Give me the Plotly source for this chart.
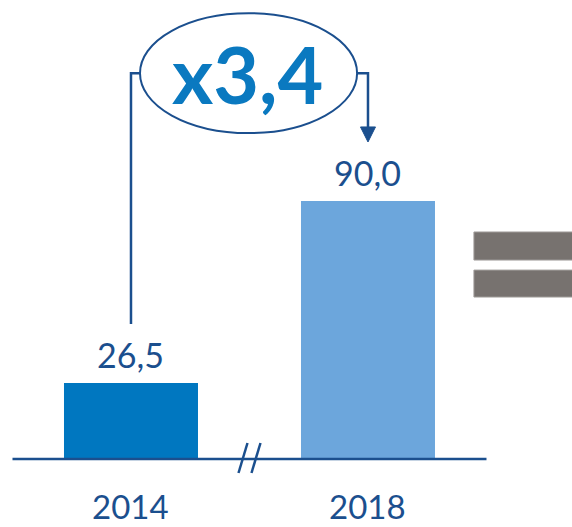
import plotly.graph_objects as go

# Data
years = ["2014", "2018"]
values = [26.5, 90.0]
bar_colors = ["#0077C0", "#6CA6DC"]

# Geometry of the canvas (axis ranges chosen so the plot fills the page)
W, H = 572, 527
X_RANGE = [-0.5527, 1.8608]
Y_RANGE = [-23.72, 160.12]
PX_PER_X = W / (X_RANGE[1] - X_RANGE[0])
PX_PER_Y = H / (Y_RANGE[1] - Y_RANGE[0])

DARK_BLUE = "#1B4F8E"
LABEL_FONT = "Lato, 'Open Sans', sans-serif"


def fmt(v, nd=1):
    return f"{v:.{nd}f}".replace(".", ",")


xs = list(range(len(years)))
ratio = values[1] / values[0]

fig = go.Figure()
fig.add_trace(go.Bar(
    x=xs, y=values, width=0.5654,
    marker=dict(color=bar_colors, line=dict(width=0)),
    hoverinfo="skip",
))

shapes = []
annotations = []

# Baseline and axis break
shapes.append(dict(type="line", xref="x", yref="y", x0=-0.5, x1=1.5, y0=0, y1=0,
                   line=dict(color=DARK_BLUE, width=2.5), layer="above"))
mid = (xs[0] + xs[1]) / 2
for dx in (-6.5, 6.5):
    cx = mid + dx / PX_PER_X
    shapes.append(dict(type="line", xref="x", yref="y",
                       x0=cx - 4.5 / PX_PER_X, y0=-14 / PX_PER_Y,
                       x1=cx + 4.5 / PX_PER_X, y1=16 / PX_PER_Y,
                       line=dict(color=DARK_BLUE, width=2.5)))

# Ellipse with growth factor
ecx, ecy = mid - 0.004, 134.6
erx, ery = 0.458, 20.9
shapes.append(dict(type="circle", xref="x", yref="y",
                   x0=ecx - erx, x1=ecx + erx, y0=ecy - ery, y1=ecy + ery,
                   line=dict(color=DARK_BLUE, width=2), fillcolor="rgba(0,0,0,0)"))
annotations.append(dict(x=ecx - 0.004, y=ecy, xref="x", yref="y", showarrow=False,
                        text=f"<b>x{fmt(ratio)}</b>", yanchor="middle", xanchor="center",
                        font=dict(family=LABEL_FONT, size=79, color="#0A79C0")))

# Connector from 2014 bar to ellipse
left_bottom = values[0] + 20.6
shapes.append(dict(type="path", xref="x", yref="y",
                   path=f"M {xs[0]},{left_bottom} L {xs[0]},{ecy} L {ecx - erx},{ecy}",
                   line=dict(color=DARK_BLUE, width=2.5)))

# Connector from ellipse to 2018 bar, ending in an arrow head
tip_y = 110.6
head_h = 15 / PX_PER_Y
head_w = 7.5 / PX_PER_X
shapes.append(dict(type="path", xref="x", yref="y",
                   path=f"M {ecx + erx},{ecy} L {xs[1]},{ecy} L {xs[1]},{tip_y + head_h}",
                   line=dict(color=DARK_BLUE, width=2.5)))
shapes.append(dict(type="path", xref="x", yref="y",
                   path=(f"M {xs[1] - head_w},{tip_y + head_h} L {xs[1] + head_w},{tip_y + head_h} "
                         f"L {xs[1]},{tip_y} Z"),
                   line=dict(color=DARK_BLUE, width=1), fillcolor=DARK_BLUE))

# Equals sign on the right edge
eq_x0 = 1.447
for y0, y1 in ((69.4, 79.2), (56.5, 65.9)):
    shapes.append(dict(type="rect", xref="x", yref="y", x0=eq_x0, x1=1.95, y0=y0, y1=y1,
                       line=dict(color="#A19D9B", width=1), fillcolor="#77726F"))

# Value labels and category labels
for x, v, yr in zip(xs, values, years):
    annotations.append(dict(x=x, y=v, xref="x", yref="y", showarrow=False,
                            text=fmt(v), yanchor="bottom", yshift=6,
                            font=dict(family=LABEL_FONT, size=34, color=DARK_BLUE)))
    annotations.append(dict(x=x, y=0, xref="x", yref="y", showarrow=False,
                            text=yr, yanchor="top", yshift=-25,
                            font=dict(family=LABEL_FONT, size=33, color=DARK_BLUE)))

fig.update_layout(
    width=W, height=H,
    margin=dict(l=0, r=0, t=0, b=0),
    paper_bgcolor="white", plot_bgcolor="white",
    showlegend=False,
    xaxis=dict(range=X_RANGE, visible=False, fixedrange=True),
    yaxis=dict(range=Y_RANGE, visible=False, fixedrange=True),
    shapes=shapes, annotations=annotations,
)

fig.write_html("out.html")
